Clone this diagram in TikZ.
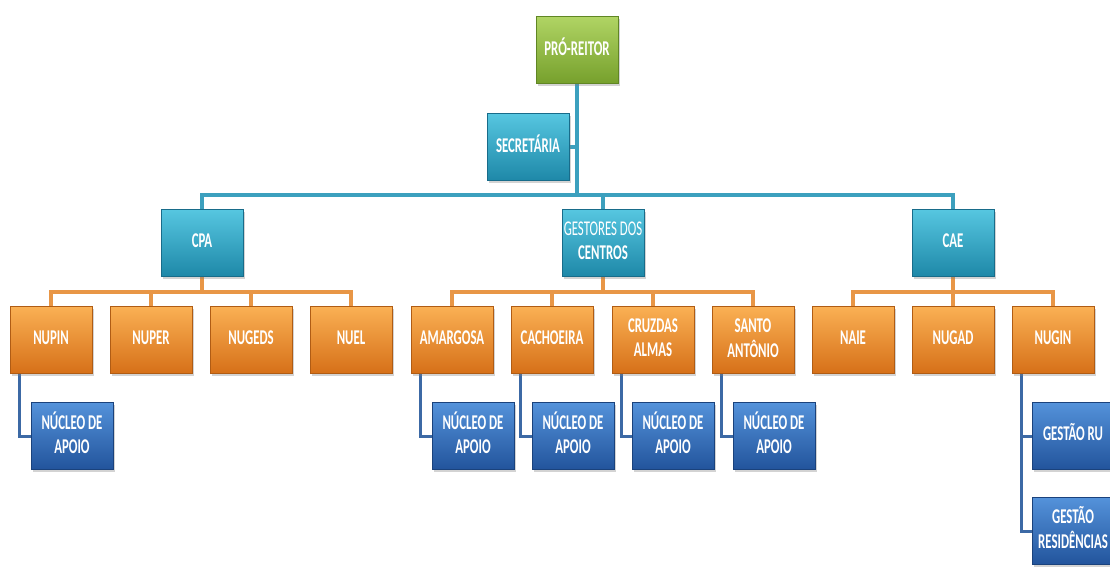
\documentclass[tikz,border=0pt]{standalone}
\usepackage{fontspec}
\setmainfont{Carlito}
\usetikzlibrary{shadows,backgrounds}
\definecolor{grn}{RGB}{142,186,62}
\definecolor{grnL}{RGB}{176,212,100}
\definecolor{grnB}{RGB}{118,160,44}
\definecolor{grnD}{RGB}{96,134,36}
\definecolor{tea}{RGB}{42,164,198}
\definecolor{teaL}{RGB}{86,198,224}
\definecolor{teaB}{RGB}{30,136,168}
\definecolor{teaD}{RGB}{24,108,138}
\definecolor{org}{RGB}{240,138,38}
\definecolor{orgL}{RGB}{250,176,84}
\definecolor{orgB}{RGB}{214,112,24}
\definecolor{orgD}{RGB}{176,92,20}
\definecolor{blu}{RGB}{46,108,190}
\definecolor{bluL}{RGB}{84,146,218}
\definecolor{bluB}{RGB}{34,84,156}
\definecolor{bluD}{RGB}{26,66,124}
\definecolor{lnT}{RGB}{60,160,190}
\definecolor{lnO}{RGB}{232,150,70}
\definecolor{lnB}{RGB}{60,105,165}
\newcommand{\tx}[1]{\raisebox{-3pt}{\scalebox{0.61}[1]{\begin{tabular}{@{}c@{}}#1\end{tabular}}}}
\tikzset{
  box/.style={rectangle, minimum width=82pt, minimum height=67pt, inner sep=0pt,
    text=white, font=\fontsize{21}{24}\selectfont\bfseries, line width=0.6pt,
    drop shadow={shadow xshift=2pt, shadow yshift=-2pt, opacity=0.35}},
  gbox/.style={box, draw=grnD, top color=grnL, middle color=grn, bottom color=grnB},
  tbox/.style={box, draw=teaD, top color=teaL, middle color=tea, bottom color=teaB},
  obox/.style={box, draw=orgD, top color=orgL, middle color=org, bottom color=orgB},
  bbox/.style={box, draw=bluD, top color=bluL, middle color=blu, bottom color=bluB},
  tl/.style={draw=lnT, line width=3.5pt},
  ol/.style={draw=lnO, line width=3.5pt},
  bl/.style={draw=lnB, line width=3pt},
}
\begin{document}
\begin{tikzpicture}[x=1pt,y=-1pt]
\useasboundingbox (0,0) rectangle (1110,566);
\coordinate (bus) at (0,195);
\coordinate (obus) at (0,292);
% nodes
\node[gbox] (pro) at (577,50) {\tx{PRÓ-REITOR}};
\node[tbox] (sec) at (528,147) {\tx{SECRETÁRIA}};
\node[tbox] (cpa) at (202,243) {\tx{CPA}};
\node[tbox] (ges) at (603,243) {\tx{\mdseries GESTORES DOS\\CENTROS}};
\node[tbox] (cae) at (953,243) {\tx{CAE}};
\node[obox] (nupin) at (51,340) {\tx{NUPIN}};
\node[obox] (nuper) at (151,340) {\tx{NUPER}};
\node[obox] (nugeds) at (251,340) {\tx{NUGEDS}};
\node[obox] (nuel) at (351,340) {\tx{NUEL}};
\node[obox] (ama) at (452,340) {\tx{AMARGOSA}};
\node[obox] (cac) at (552,340) {\tx{CACHOEIRA}};
\node[obox] (cru) at (653,340) {\tx{CRUZDAS\\ALMAS}};
\node[obox] (san) at (753,340) {\tx{SANTO\\ANTÔNIO}};
\node[obox] (naie) at (853,340) {\tx{NAIE}};
\node[obox] (nugad) at (953,340) {\tx{NUGAD}};
\node[obox] (nugin) at (1053,340) {\tx{NUGIN}};
\node[bbox] (na1) at (72,436) {\tx{NÚCLEO DE\\APOIO}};
\node[bbox] (na2) at (473,436) {\tx{NÚCLEO DE\\APOIO}};
\node[bbox] (na3) at (573,436) {\tx{NÚCLEO DE\\APOIO}};
\node[bbox] (na4) at (673,436) {\tx{NÚCLEO DE\\APOIO}};
\node[bbox] (na5) at (774,436) {\tx{NÚCLEO DE\\APOIO}};
\node[bbox] (gru) at (1073,436) {\tx{GESTÃO RU}};
\node[bbox] (gres) at (1073,531) {\tx{GESTÃO\\RESIDÊNCIAS}};
% connectors
\begin{pgfonlayer}{background}
\draw[tl] (pro.south) -- (pro.south |- bus);
\draw[tl] (sec.east) -- (sec.east -| pro.south);
\draw[tl] (cpa.north) -- (cpa.north |- bus) -- (cae.north |- bus) -- (cae.north);
\draw[tl] (ges.north) -- (ges.north |- bus);
\draw[ol] (nupin.north) -- (nupin.north |- obus) -- (nuel.north |- obus) -- (nuel.north);
\draw[ol] (cpa.south) -- (cpa.south |- obus);
\draw[ol] (nuper.north) -- (nuper.north |- obus);
\draw[ol] (nugeds.north) -- (nugeds.north |- obus);
\draw[ol] (ama.north) -- (ama.north |- obus) -- (san.north |- obus) -- (san.north);
\draw[ol] (ges.south) -- (ges.south |- obus);
\draw[ol] (cac.north) -- (cac.north |- obus);
\draw[ol] (cru.north) -- (cru.north |- obus);
\draw[ol] (naie.north) -- (naie.north |- obus) -- (nugin.north |- obus) -- (nugin.north);
\draw[ol] (cae.south) -- (cae.south |- obus);
\draw[ol] (nugad.north) -- (nugad.north |- obus);
\draw[bl] ([xshift=10pt]nupin.south west) |- (na1.west);
\draw[bl] ([xshift=10pt]ama.south west) |- (na2.west);
\draw[bl] ([xshift=10pt]cac.south west) |- (na3.west);
\draw[bl] ([xshift=10pt]cru.south west) |- (na4.west);
\draw[bl] ([xshift=10pt]san.south west) |- (na5.west);
\draw[bl] ([xshift=10pt]nugin.south west) |- (gru.west);
\draw[bl] ([xshift=10pt]nugin.south west) |- (gres.west);
\end{pgfonlayer}
\end{tikzpicture}
\end{document}
